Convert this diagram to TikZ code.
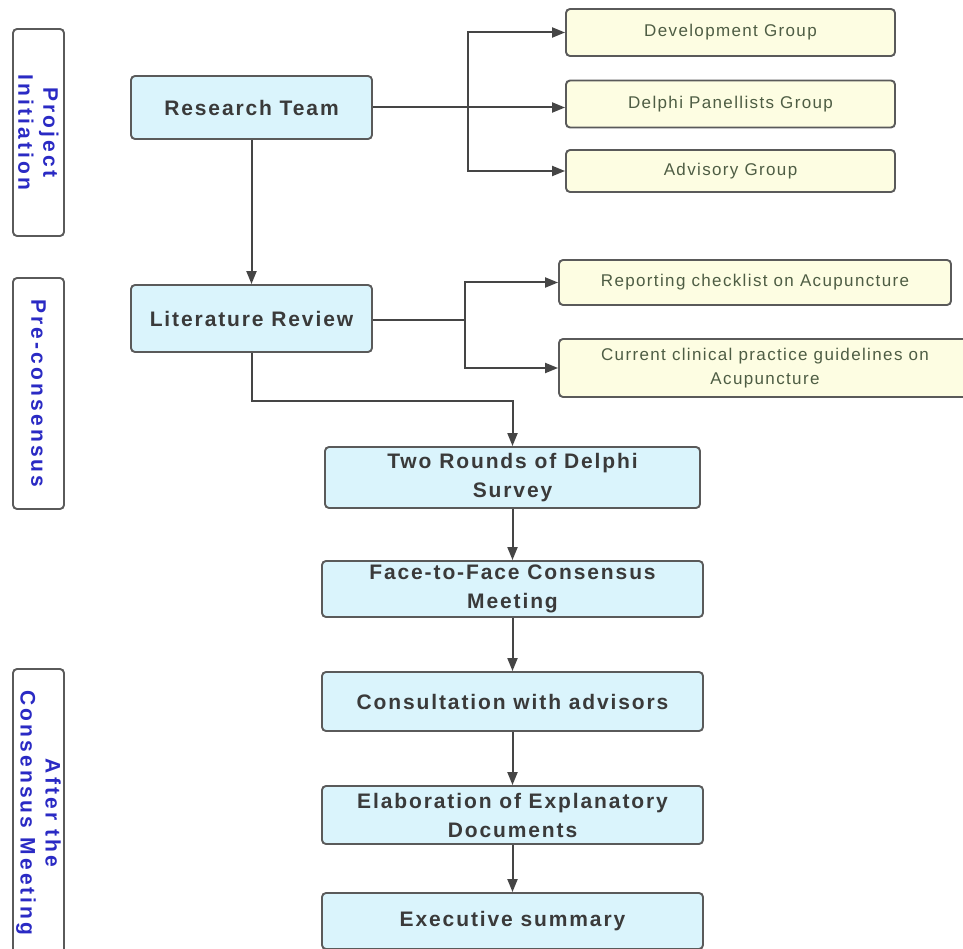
\documentclass[tikz,border=0pt]{standalone}
\usepackage{fontspec}
\usetikzlibrary{arrows.meta}
\newfontfamily\mainf{Liberation Sans}[LetterSpace=9]
\newfontfamily\smallf{Liberation Sans}[LetterSpace=8]
\newfontfamily\sidef{Liberation Sans}[LetterSpace=15]
\definecolor{cyanfill}{HTML}{DAF4FC}
\definecolor{yelfill}{HTML}{FDFDE2}
\definecolor{bord}{HTML}{5A5A5A}
\definecolor{maintxt}{HTML}{3A3A3A}
\definecolor{smalltxt}{HTML}{4E5D44}
\definecolor{sidetxt}{HTML}{2A2AC4}
\definecolor{linec}{HTML}{454545}
\begin{document}
\begin{tikzpicture}[x=1pt,y=-1pt,
  mainbox/.style={draw=bord, line width=1.9pt, fill=cyanfill, rounded corners=4pt, align=center,
    font=\mainf\bfseries\fontsize{21}{29}\selectfont, text=maintxt, inner sep=0pt},
  smallbox/.style={draw=bord, line width=1.9pt, fill=yelfill, rounded corners=4pt, align=center,
    font=\smallf\fontsize{17}{25}\selectfont, text=smalltxt, inner sep=0pt},
  sidebox/.style={draw=bord, line width=1.9pt, fill=white, rounded corners=4pt, align=center,
    font=\sidef\bfseries\fontsize{21}{25}\selectfont, text=sidetxt, inner sep=0pt, rotate=-90,
    minimum height=51},
  conn/.style={draw=linec, line width=2pt},
  arr/.style={conn, -{Triangle[length=13pt,width=10pt]}}]
\useasboundingbox (0,0) rectangle (963,949);
\clip (0,0) rectangle (963,949);
\fill[white] (0,0) rectangle (963,949);

% side labels
\node[sidebox, minimum width=207] (s1) at (38.5,132.5) {Project\\Initiation};
\node[sidebox, minimum width=231] (s2) at (38.5,393.5) {Pre-consensus};
\node[sidebox, minimum width=288] (s3) at (38.5,813) {After the\\Consensus Meeting};

% main boxes
\node[mainbox, minimum width=241, minimum height=63] (rt) at (251.5,107.5) {Research Team};
\node[mainbox, minimum width=241, minimum height=67] (lr) at (251.5,318.5) {Literature Review};
\node[mainbox, minimum width=375, minimum height=61] (tr) at (512.5,477.5) {Two Rounds of Delphi\\Survey};
\node[mainbox, minimum width=381, minimum height=56] (ff) at (512.5,589) {Face-to-Face Consensus\\Meeting};
\node[mainbox, minimum width=381, minimum height=59] (cw) at (512.5,701.5) {Consultation with advisors};
\node[mainbox, minimum width=381, minimum height=58] (el) at (512.5,815) {Elaboration of Explanatory\\Documents};
\node[mainbox, minimum width=381, minimum height=56] (es) at (512.5,921) {Executive summary};

% yellow boxes
\node[smallbox, minimum width=329, minimum height=47] (dg) at (730.5,32.5) {Development Group};
\node[smallbox, minimum width=329, minimum height=47] (dp) at (730.5,104) {Delphi Panellists Group};
\node[smallbox, minimum width=329, minimum height=42] (ag) at (730.5,171) {Advisory Group};
\node[smallbox, minimum width=392, minimum height=45] (rc) at (755,282.5) {Reporting checklist on Acupuncture};
\node[smallbox, minimum width=412, minimum height=58, font=\smallf\fontsize{17}{24}\selectfont] (cc) at (765,368) {Current clinical practice guidelines on\\Acupuncture};

% connectors
\coordinate (j1) at (468,107.5);
\draw[conn] (rt.east) -- (j1);
\draw[arr] (j1) -- (j1 -| dp.west);
\draw[arr] (j1) |- (dg.west);
\draw[arr] (j1) |- (ag.west);

\draw[arr] (rt.south) -- (lr.north);

\coordinate (j2) at (465,320);
\draw[conn] (lr.east |- j2) -- (j2);
\draw[arr] (j2) |- (rc.west);
\draw[arr] (j2) |- (cc.west);

\coordinate (j3) at (512.5,401);
\draw[arr] (lr.south) |- (j3) -- (tr.north);

\draw[arr] (tr.south) -- (ff.north);
\draw[arr] (ff.south) -- (cw.north);
\draw[arr] (cw.south) -- (el.north);
\draw[arr] (el.south) -- (es.north);
\end{tikzpicture}
\end{document}
